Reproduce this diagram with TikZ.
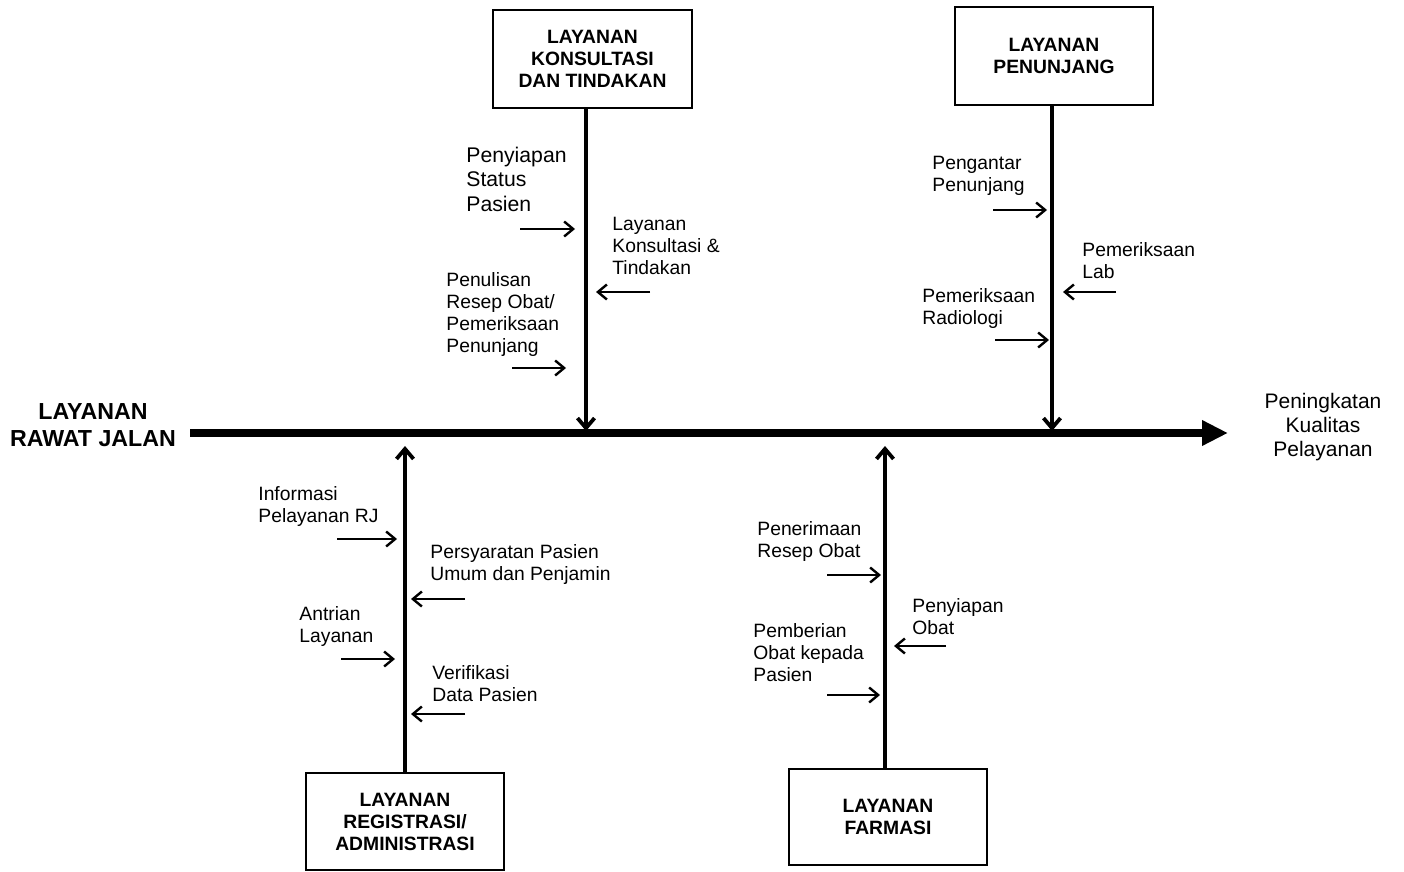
\documentclass[tikz,border=0pt]{standalone}
\usepackage{fontspec}
\setmainfont{Liberation Sans}
\usetikzlibrary{arrows.meta}
\begin{document}
\begin{tikzpicture}[x=0.5pt,y=-0.5pt,
  catbox/.style={draw, line width=1pt, minimum width=99pt, minimum height=48.5pt, align=center, inner sep=0pt, font=\bfseries\fontsize{9.65}{11}\selectfont},
  lbl/.style={align=left, anchor=west, inner sep=0pt, font=\fontsize{9.65}{11}\selectfont},
  biglbl/.style={align=left, anchor=west, inner sep=0pt, font=\fontsize{10.6}{12.25}\selectfont},
  bone/.style={line width=1.9pt, -{Straight Barb[length=5pt,width=8.5pt]}},
  twig/.style={line width=1.2pt, -{Straight Barb[length=4.5pt,width=7.5pt]}},
  spine/.style={line width=4pt, -{Triangle[length=13pt,width=12pt]}}]
\useasboundingbox (0,0) rectangle (1404,872);

% spine
\coordinate (spL) at (190,433);
\coordinate (spR) at (1228,433);
\draw[spine] (spL) -- (spR);
\node[align=center, inner sep=0pt, font=\bfseries\fontsize{11.6}{13.5}\selectfont] (main) at (93,425) {LAYANAN\\RAWAT JALAN};
\node[align=center, inner sep=0pt, font=\fontsize{10.5}{12}\selectfont] (result) at (1323,427) {Peningkatan\\Kualitas\\Pelayanan};

% category boxes
\node[catbox, minimum width=99.5pt, minimum height=49pt] (box1) at (592.5,59) {LAYANAN\\KONSULTASI\\DAN TINDAKAN};
\node[catbox, minimum height=49pt] (box2) at (1054,56) {LAYANAN\\PENUNJANG};
\node[catbox] (box3) at (405,821.5) {LAYANAN\\REGISTRASI/\\ADMINISTRASI};
\node[catbox, minimum height=48pt] (box4) at (888,817) {LAYANAN\\FARMASI};

% bones
\coordinate (k1) at (586,431);
\coordinate (k2) at (1052,431);
\coordinate (k3) at (405,446);
\coordinate (k4) at (885,446);
\draw[bone] (box1.south -| k1) -- (k1);
\draw[bone] (box2.south -| k2) -- (k2);
\draw[bone] (box3.north -| k3) -- (k3);
\draw[bone] (box4.north -| k4) -- (k4);

% labels
\node[biglbl] (l1) at (466,179) {Penyiapan\\Status\\Pasien};
\node[lbl] (l2) at (612,246) {Layanan\\Konsultasi \&\\Tindakan};
\node[lbl] (l3) at (446,315) {Penulisan\\Resep Obat/\\Pemeriksaan\\Penunjang};
\node[lbl] (l4) at (932,176) {Pengantar\\Penunjang};
\node[lbl] (l5) at (1082,261) {Pemeriksaan\\Lab};
\node[lbl] (l6) at (922,309) {Pemeriksaan\\Radiologi};
\node[lbl] (l7) at (258,507) {Informasi\\Pelayanan RJ};
\node[lbl] (l8) at (430,565) {Persyaratan Pasien\\Umum dan Penjamin};
\node[lbl] (l9) at (299,627) {Antrian\\Layanan};
\node[lbl] (l10) at (432,684) {Verifikasi\\Data Pasien};
\node[lbl] (l11) at (757,542) {Penerimaan\\Resep Obat};
\node[lbl] (l12) at (912,617) {Penyiapan\\Obat};
\node[lbl] (l13) at (753,653) {Pemberian\\Obat kepada\\Pasien};

% twig arrows
\coordinate (t1a) at (520,229);  \coordinate (t1b) at (575,229);
\coordinate (t2a) at (650,292);  \coordinate (t2b) at (596,292);
\coordinate (t3a) at (512,368);  \coordinate (t3b) at (566,368);
\coordinate (t4a) at (993,210);  \coordinate (t4b) at (1047,210);
\coordinate (t5a) at (1116,292); \coordinate (t5b) at (1063,292);
\coordinate (t6a) at (995,340);  \coordinate (t6b) at (1049,340);
\coordinate (t7a) at (337,539);  \coordinate (t7b) at (397,539);
\coordinate (t8a) at (465,599);  \coordinate (t8b) at (411,599);
\coordinate (t9a) at (341,659);  \coordinate (t9b) at (395,659);
\coordinate (t10a) at (465,714); \coordinate (t10b) at (411,714);
\coordinate (t11a) at (827,575); \coordinate (t11b) at (881,575);
\coordinate (t12a) at (946,646); \coordinate (t12b) at (894,646);
\coordinate (t13a) at (827,695); \coordinate (t13b) at (880,695);
\foreach \i in {1,...,13} {\draw[twig] (t\i a) -- (t\i b);}
\end{tikzpicture}
\end{document}
